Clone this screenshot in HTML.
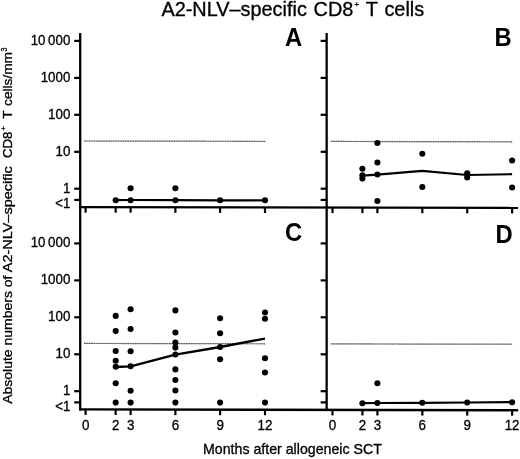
<!DOCTYPE html>
<html><head><meta charset="utf-8"><title>A2-NLV-specific CD8+ T cells</title>
<style>html,body{margin:0;padding:0;background:#fff;width:520px;height:459px;overflow:hidden}</style>
</head><body>
<svg width="520" height="459" viewBox="0 0 520 459" style="position:absolute;left:0;top:0;filter:grayscale(1)">
<rect width="520" height="459" fill="#fff"/>
<line x1="84" y1="141.01" x2="265.5" y2="141.33" stroke="#b4b4b4" stroke-width="1.2"/>
<line x1="84" y1="141.01" x2="265.5" y2="141.33" stroke="#3c3c3c" stroke-width="1.2" stroke-dasharray="0.85 0.85"/>
<line x1="331" y1="141.45" x2="512.5" y2="141.78" stroke="#b4b4b4" stroke-width="1.2"/>
<line x1="331" y1="141.45" x2="512.5" y2="141.78" stroke="#3c3c3c" stroke-width="1.2" stroke-dasharray="0.85 0.85"/>
<line x1="84" y1="343.46" x2="265.5" y2="343.78" stroke="#b4b4b4" stroke-width="1.2"/>
<line x1="84" y1="343.46" x2="265.5" y2="343.78" stroke="#3c3c3c" stroke-width="1.2" stroke-dasharray="0.85 0.85"/>
<line x1="331" y1="343.90" x2="512.5" y2="344.23" stroke="#b4b4b4" stroke-width="1.2"/>
<line x1="331" y1="343.90" x2="512.5" y2="344.23" stroke="#3c3c3c" stroke-width="1.2" stroke-dasharray="0.85 0.85"/>
<g stroke="#000" stroke-width="2.3" fill="none">
<line x1="80.2" y1="33" x2="80.2" y2="410.59999999999997"/>
<line x1="326.65" y1="33" x2="326.65" y2="410.59999999999997"/>
<line x1="79.05" y1="207.15" x2="518.1" y2="207.94"/>
<line x1="79.05" y1="409.45" x2="518.1" y2="410.24"/>
<line x1="74.2" y1="40.900000000000006" x2="80.2" y2="40.900000000000006" stroke-width="2.2"/>
<line x1="320.65" y1="40.900000000000006" x2="326.65" y2="40.900000000000006" stroke-width="2.2"/>
<line x1="74.2" y1="77.9" x2="80.2" y2="77.9" stroke-width="2.2"/>
<line x1="320.65" y1="77.9" x2="326.65" y2="77.9" stroke-width="2.2"/>
<line x1="74.2" y1="114.8" x2="80.2" y2="114.8" stroke-width="2.2"/>
<line x1="320.65" y1="114.8" x2="326.65" y2="114.8" stroke-width="2.2"/>
<line x1="74.2" y1="151.79999999999998" x2="80.2" y2="151.79999999999998" stroke-width="2.2"/>
<line x1="320.65" y1="151.79999999999998" x2="326.65" y2="151.79999999999998" stroke-width="2.2"/>
<line x1="74.2" y1="188.7" x2="80.2" y2="188.7" stroke-width="2.2"/>
<line x1="320.65" y1="188.7" x2="326.65" y2="188.7" stroke-width="2.2"/>
<line x1="74.2" y1="199.89999999999998" x2="80.2" y2="199.89999999999998" stroke-width="2.2"/>
<line x1="320.65" y1="199.89999999999998" x2="326.65" y2="199.89999999999998" stroke-width="2.2"/>
<line x1="74.2" y1="243.39999999999998" x2="80.2" y2="243.39999999999998" stroke-width="2.2"/>
<line x1="320.65" y1="243.39999999999998" x2="326.65" y2="243.39999999999998" stroke-width="2.2"/>
<line x1="74.2" y1="280.4" x2="80.2" y2="280.4" stroke-width="2.2"/>
<line x1="320.65" y1="280.4" x2="326.65" y2="280.4" stroke-width="2.2"/>
<line x1="74.2" y1="317.3" x2="80.2" y2="317.3" stroke-width="2.2"/>
<line x1="320.65" y1="317.3" x2="326.65" y2="317.3" stroke-width="2.2"/>
<line x1="74.2" y1="354.3" x2="80.2" y2="354.3" stroke-width="2.2"/>
<line x1="320.65" y1="354.3" x2="326.65" y2="354.3" stroke-width="2.2"/>
<line x1="74.2" y1="391.2" x2="80.2" y2="391.2" stroke-width="2.2"/>
<line x1="320.65" y1="391.2" x2="326.65" y2="391.2" stroke-width="2.2"/>
<line x1="74.2" y1="402.4" x2="80.2" y2="402.4" stroke-width="2.2"/>
<line x1="320.65" y1="402.4" x2="326.65" y2="402.4" stroke-width="2.2"/>
<line x1="85.6" y1="207.16" x2="85.6" y2="212.66" stroke-width="2.2"/>
<line x1="332.50" y1="207.60" x2="332.50" y2="213.10" stroke-width="2.2"/>
<line x1="85.6" y1="409.46" x2="85.6" y2="414.96" stroke-width="2.2"/>
<line x1="332.50" y1="409.90" x2="332.50" y2="415.40" stroke-width="2.2"/>
<line x1="115.65" y1="207.21" x2="115.65" y2="212.71" stroke-width="2.2"/>
<line x1="362.44" y1="207.66" x2="362.44" y2="213.16" stroke-width="2.2"/>
<line x1="115.65" y1="409.51" x2="115.65" y2="415.01" stroke-width="2.2"/>
<line x1="362.44" y1="409.96" x2="362.44" y2="415.46" stroke-width="2.2"/>
<line x1="130.6" y1="207.24" x2="130.6" y2="212.74" stroke-width="2.2"/>
<line x1="377.41" y1="207.69" x2="377.41" y2="213.19" stroke-width="2.2"/>
<line x1="130.6" y1="409.54" x2="130.6" y2="415.04" stroke-width="2.2"/>
<line x1="377.41" y1="409.99" x2="377.41" y2="415.49" stroke-width="2.2"/>
<line x1="175.4" y1="207.32" x2="175.4" y2="212.82" stroke-width="2.2"/>
<line x1="422.32" y1="207.77" x2="422.32" y2="213.27" stroke-width="2.2"/>
<line x1="175.4" y1="409.62" x2="175.4" y2="415.12" stroke-width="2.2"/>
<line x1="422.32" y1="410.07" x2="422.32" y2="415.57" stroke-width="2.2"/>
<line x1="220.1" y1="207.40" x2="220.1" y2="212.90" stroke-width="2.2"/>
<line x1="467.23" y1="207.85" x2="467.23" y2="213.35" stroke-width="2.2"/>
<line x1="220.1" y1="409.70" x2="220.1" y2="415.20" stroke-width="2.2"/>
<line x1="467.23" y1="410.15" x2="467.23" y2="415.65" stroke-width="2.2"/>
<line x1="265.0" y1="207.48" x2="265.0" y2="212.98" stroke-width="2.2"/>
<line x1="512.14" y1="207.93" x2="512.14" y2="213.43" stroke-width="2.2"/>
<line x1="265.0" y1="409.78" x2="265.0" y2="415.28" stroke-width="2.2"/>
<line x1="512.14" y1="410.23" x2="512.14" y2="415.73" stroke-width="2.2"/>
</g>
<polyline fill="none" stroke="#000" stroke-width="2.2" stroke-linejoin="round" points="115.7,200.2 130.6,200.0 175.4,200.1 220.1,200.3 265.0,200.4"/>
<polyline fill="none" stroke="#000" stroke-width="2.2" stroke-linejoin="round" points="362.4,175.6 377.4,174.6 422.3,170.8 467.2,175.0 512.1,174.2"/>
<polyline fill="none" stroke="#000" stroke-width="2.3" stroke-linejoin="round" points="115.7,367.0 130.6,366.3 175.4,354.7 220.1,347.0 265.0,338.6"/>
<polyline fill="none" stroke="#000" stroke-width="2.2" stroke-linejoin="round" points="362.4,403.2 377.4,403.0 422.3,402.8 467.2,402.5 512.1,402.2"/>
<g fill="#000">
<circle cx="115.7" cy="200.2" r="3.05"/>
<circle cx="130.6" cy="188.3" r="3.05"/>
<circle cx="130.6" cy="200.2" r="3.05"/>
<circle cx="175.4" cy="188.3" r="3.05"/>
<circle cx="175.4" cy="200.2" r="3.05"/>
<circle cx="220.1" cy="200.2" r="3.05"/>
<circle cx="265.0" cy="200.3" r="3.05"/>
<circle cx="362.4" cy="168.8" r="3.05"/>
<circle cx="362.4" cy="175.2" r="3.05"/>
<circle cx="362.4" cy="178.6" r="3.05"/>
<circle cx="377.4" cy="143.0" r="3.05"/>
<circle cx="377.4" cy="162.5" r="3.05"/>
<circle cx="377.4" cy="174.5" r="3.05"/>
<circle cx="377.4" cy="201.0" r="3.05"/>
<circle cx="422.3" cy="153.8" r="3.05"/>
<circle cx="422.3" cy="187.0" r="3.05"/>
<circle cx="467.2" cy="173.2" r="3.05"/>
<circle cx="467.2" cy="177.5" r="3.05"/>
<circle cx="512.1" cy="160.5" r="3.05"/>
<circle cx="512.1" cy="187.5" r="3.05"/>
<circle cx="115.7" cy="315.9" r="3.05"/>
<circle cx="115.7" cy="331.1" r="3.05"/>
<circle cx="115.7" cy="351.0" r="3.05"/>
<circle cx="115.7" cy="360.8" r="3.05"/>
<circle cx="115.7" cy="366.8" r="3.05"/>
<circle cx="115.7" cy="383.2" r="3.05"/>
<circle cx="115.7" cy="402.6" r="3.05"/>
<circle cx="130.6" cy="309.3" r="3.05"/>
<circle cx="130.6" cy="329.0" r="3.05"/>
<circle cx="130.6" cy="351.2" r="3.05"/>
<circle cx="130.6" cy="366.3" r="3.05"/>
<circle cx="130.6" cy="390.8" r="3.05"/>
<circle cx="130.6" cy="402.6" r="3.05"/>
<circle cx="175.4" cy="310.4" r="3.05"/>
<circle cx="175.4" cy="332.5" r="3.05"/>
<circle cx="175.4" cy="342.6" r="3.05"/>
<circle cx="175.4" cy="347.6" r="3.05"/>
<circle cx="175.4" cy="354.5" r="3.05"/>
<circle cx="175.4" cy="369.4" r="3.05"/>
<circle cx="175.4" cy="380.0" r="3.05"/>
<circle cx="175.4" cy="390.5" r="3.05"/>
<circle cx="175.4" cy="402.6" r="3.05"/>
<circle cx="220.1" cy="318.3" r="3.05"/>
<circle cx="220.1" cy="333.3" r="3.05"/>
<circle cx="220.1" cy="347.0" r="3.05"/>
<circle cx="220.1" cy="359.3" r="3.05"/>
<circle cx="220.1" cy="402.6" r="3.05"/>
<circle cx="265.0" cy="312.5" r="3.05"/>
<circle cx="265.0" cy="318.8" r="3.05"/>
<circle cx="265.0" cy="358.3" r="3.05"/>
<circle cx="265.0" cy="372.5" r="3.05"/>
<circle cx="265.0" cy="402.6" r="3.05"/>
<circle cx="362.4" cy="403.2" r="3.05"/>
<circle cx="377.4" cy="383.3" r="3.05"/>
<circle cx="377.4" cy="403.0" r="3.05"/>
<circle cx="422.3" cy="402.8" r="3.05"/>
<circle cx="467.2" cy="402.5" r="3.05"/>
<circle cx="512.1" cy="402.2" r="3.05"/>
</g>
<g font-family="'Liberation Sans', sans-serif" fill="#000" stroke="#000" stroke-width="0.3">
<text transform="translate(70.3,44.9) scale(1,1.09)" font-size="13.3" text-anchor="end">10 000</text>
<text transform="translate(70.3,81.9) scale(1,1.09)" font-size="13.3" text-anchor="end">1000</text>
<text transform="translate(70.3,118.8) scale(1,1.09)" font-size="13.3" text-anchor="end">100</text>
<text transform="translate(70.3,155.8) scale(1,1.09)" font-size="13.3" text-anchor="end">10</text>
<text transform="translate(70.3,192.7) scale(1,1.09)" font-size="13.3" text-anchor="end">1</text>
<text transform="translate(70.3,207.8) scale(1,1.09)" font-size="13.3" text-anchor="end">&lt;1</text>
<text transform="translate(70.3,247.4) scale(1,1.09)" font-size="13.3" text-anchor="end">10 000</text>
<text transform="translate(70.3,284.4) scale(1,1.09)" font-size="13.3" text-anchor="end">1000</text>
<text transform="translate(70.3,321.3) scale(1,1.09)" font-size="13.3" text-anchor="end">100</text>
<text transform="translate(70.3,358.3) scale(1,1.09)" font-size="13.3" text-anchor="end">10</text>
<text transform="translate(70.3,395.2) scale(1,1.09)" font-size="13.3" text-anchor="end">1</text>
<text transform="translate(70.3,410.8) scale(1,1.09)" font-size="13.3" text-anchor="end">&lt;1</text>
<text transform="translate(85.6,429.6) scale(1,1.09)" font-size="13.4" text-anchor="middle">0</text>
<text transform="translate(332.5,429.6) scale(1,1.09)" font-size="13.4" text-anchor="middle">0</text>
<text transform="translate(115.7,429.6) scale(1,1.09)" font-size="13.4" text-anchor="middle">2</text>
<text transform="translate(362.4,429.6) scale(1,1.09)" font-size="13.4" text-anchor="middle">2</text>
<text transform="translate(130.6,429.6) scale(1,1.09)" font-size="13.4" text-anchor="middle">3</text>
<text transform="translate(377.4,429.6) scale(1,1.09)" font-size="13.4" text-anchor="middle">3</text>
<text transform="translate(175.4,429.6) scale(1,1.09)" font-size="13.4" text-anchor="middle">6</text>
<text transform="translate(422.3,429.6) scale(1,1.09)" font-size="13.4" text-anchor="middle">6</text>
<text transform="translate(220.1,429.6) scale(1,1.09)" font-size="13.4" text-anchor="middle">9</text>
<text transform="translate(467.2,429.6) scale(1,1.09)" font-size="13.4" text-anchor="middle">9</text>
<text transform="translate(265.0,429.6) scale(1,1.09)" font-size="13.4" text-anchor="middle">12</text>
<text transform="translate(512.1,429.6) scale(1,1.09)" font-size="13.4" text-anchor="middle">12</text>
<text x="161.4" y="15.7" font-size="19.3" word-spacing="1.2" textLength="262.8" lengthAdjust="spacingAndGlyphs">A2-NLV–specific CD8<tspan font-size="7.5" dy="-9" dx="1">+</tspan><tspan dy="9" dx="0.5"> T cells</tspan></text>
<text x="203" y="453.8" font-size="13.9" textLength="178.8" lengthAdjust="spacingAndGlyphs">Months after allogeneic SCT</text>
<text transform="translate(12.3,403.8) rotate(-90)" font-size="13.5" textLength="128.3" lengthAdjust="spacingAndGlyphs">Absolute numbers of</text>
<text transform="translate(12.3,272.2) rotate(-90)" font-size="13.5" textLength="105.9" lengthAdjust="spacingAndGlyphs">A2-NLV–specific</text>
<text transform="translate(12.3,158.1) rotate(-90)" font-size="13.5" textLength="26.6" lengthAdjust="spacingAndGlyphs">CD8</text>
<text transform="translate(6.000000000000001,130.4) rotate(-90)" font-size="7.5">+</text>
<text transform="translate(12.3,118.7) rotate(-90)" font-size="13.5">T</text>
<text transform="translate(12.3,105.9) rotate(-90)" font-size="13.5" textLength="53.9" lengthAdjust="spacingAndGlyphs">cells/mm</text>
<text transform="translate(6.800000000000001,51.5) rotate(-90)" font-size="8.2" textLength="4.0" lengthAdjust="spacingAndGlyphs">3</text>
<text x="285" y="46" font-size="25" font-weight="bold" stroke="none" textLength="17.2" lengthAdjust="spacingAndGlyphs">A</text>
<text x="494.5" y="46" font-size="25" font-weight="bold" stroke="none" textLength="17.2" lengthAdjust="spacingAndGlyphs">B</text>
<text x="285" y="241" font-size="25" font-weight="bold" stroke="none" textLength="17.2" lengthAdjust="spacingAndGlyphs">C</text>
<text x="495.6" y="242.5" font-size="25" font-weight="bold" stroke="none" textLength="17.2" lengthAdjust="spacingAndGlyphs">D</text>
</g>
</svg>
</body></html>
